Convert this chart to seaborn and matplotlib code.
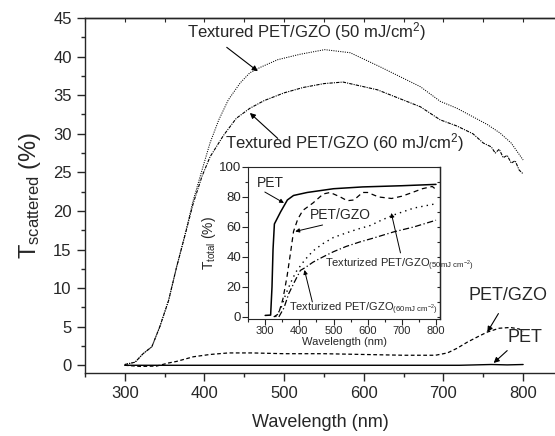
import matplotlib
matplotlib.use("Agg")
import matplotlib.pyplot as plt
import seaborn as sns
from matplotlib.ticker import MultipleLocator

# main plot: scattered transmittance
wl_50 = [300, 313, 323, 334, 344, 355, 365, 376, 386, 397, 407, 418, 430, 445, 457, 470, 492, 520,
         551, 583, 620, 671, 696, 717, 737, 755, 771, 785, 800]
ts_50 = [0.1, 0.4, 1.5, 2.4, 5.0, 8.4, 12.7, 17.1, 21.4, 25.3, 28.8, 31.8, 34.4, 36.6, 37.9, 38.6, 39.6, 40.3,
         40.9, 40.5, 38.7, 36.1, 34.2, 33.3, 32.2, 31.2, 30.1, 28.8, 26.6]

wl_60 = [300, 313, 323, 334, 344, 355, 365, 376, 386, 397, 407, 424, 440, 457, 475, 500, 524, 550, 574,
         617, 671, 696, 717, 737, 750, 760, 765, 770, 775, 780, 785, 790, 795, 800]
ts_60 = [0.1, 0.4, 1.5, 2.4, 5.0, 8.4, 12.7, 17.0, 21.0, 24.5, 27.0, 29.8, 32.0, 33.3, 34.3, 35.3, 36.0, 36.5, 36.7,
         35.7, 33.5, 31.8, 31.0, 30.0, 28.8, 28.3, 27.5, 28.0, 26.9, 27.2, 26.2, 26.5, 25.3, 24.8]

wl_pg = [300, 320, 340, 355, 365, 386, 407, 430, 460, 500, 550, 600, 650, 690, 705, 717, 730, 745, 755,
         770, 784, 795, 800]
ts_pg = [0.0, -0.15, -0.1, 0.3, 0.5, 1.1, 1.4, 1.6, 1.6, 1.5, 1.5, 1.4, 1.3, 1.3, 1.6, 2.2, 3.0, 3.8, 4.3,
         4.8, 4.9, 4.7, 4.4]

wl_pet = [300, 720, 740, 760, 780, 800]
ts_pet = [0.0, 0.0, 0.05, 0.1, 0.05, 0.1]

# inset: total transmittance
wl_in_pet = [300, 316, 320, 323, 327, 345, 365, 383, 423, 500, 585, 700, 800]
tt_in_pet = [1.0, 1.2, 20, 45, 62, 70, 78, 81, 83, 85.5, 86.7, 87.5, 88.4]

wl_in_pg = [325, 339, 352, 364, 375, 383, 395, 410, 440, 470, 490, 520, 540, 560, 585, 600, 632, 670,
            700, 726, 760, 789, 800]
tt_in_pg = [0, 2, 12, 27, 44, 57, 65, 71, 76, 82, 83, 80, 77.5, 78, 83, 83, 80, 79,
            80.5, 82.6, 85.5, 87, 85]

wl_in_50 = [330, 345, 360, 375, 390, 416, 440, 470, 500, 537, 570, 608, 640, 676, 735, 800]
tt_in_50 = [0, 5, 15, 23, 30, 38, 44, 49, 53, 56, 58.5, 61, 64.5, 68, 72.6, 75.5]

wl_in_60 = [340, 355, 369, 385, 403, 418, 440, 469, 500, 537, 577, 617, 676, 735, 800]
tt_in_60 = [0, 6, 15.5, 23, 31, 33, 36.5, 40, 43.5, 47, 50, 52.6, 56.7, 60, 64.5]

sns.set_style("ticks")
plt.rcParams['font.family'] = ['Liberation Sans', 'DejaVu Sans']
plt.rcParams['mathtext.fontset'] = 'custom'
plt.rcParams['mathtext.rm'] = 'Liberation Sans'
plt.rcParams['mathtext.it'] = 'Liberation Sans:italic'
plt.rcParams['axes.linewidth'] = 1.0

fig = plt.figure(figsize=(5.55, 4.36), dpi=100)
ax = fig.add_axes([0.153, 0.1445, 0.847, 0.8142])

sns.lineplot(x=wl_50, y=ts_50, ax=ax, color='k', lw=0.75, linestyle=(0, (1, 1.2)))
sns.lineplot(x=wl_60, y=ts_60, ax=ax, color='k', lw=0.8, linestyle=(0, (3, 1, 1, 1)))
sns.lineplot(x=wl_pg, y=ts_pg, ax=ax, color='k', lw=0.9, linestyle=(0, (3, 2)))
sns.lineplot(x=wl_pet, y=ts_pet, ax=ax, color='k', lw=1.0)

ax.set_xlim(250, 840)
ax.set_ylim(-1, 45)
ax.xaxis.set_major_locator(MultipleLocator(100))
ax.xaxis.set_minor_locator(MultipleLocator(50))
ax.yaxis.set_major_locator(MultipleLocator(5))
ax.yaxis.set_minor_locator(MultipleLocator(2.5))
ax.tick_params(which='major', direction='out', length=6, width=1, labelsize=12)
ax.tick_params(which='minor', direction='out', length=3, width=1)
ax.spines['right'].set_visible(False)
top = ax.secondary_xaxis('top')
top.xaxis.set_major_locator(MultipleLocator(50))
top.tick_params(direction='in', length=3, labeltop=False)

ax.set_xlabel('Wavelength (nm)', fontsize=13, labelpad=9)
ax.set_ylabel('T$_{\\mathrm{scattered}}$ (%)', fontsize=17)
ax.yaxis.set_label_coords(-0.09, 0.5)

arrow = dict(arrowstyle='-|>', color='k', lw=0.8, mutation_scale=8, shrinkA=0, shrinkB=0)
ax.text(378, 43.3, 'Textured PET/GZO (50 mJ/cm$^2$)', fontsize=12, va='center')
ax.annotate('', xy=(467, 38.1), xytext=(428, 41.2), arrowprops=arrow)
ax.text(426, 28.8, 'Textured PET/GZO (60 mJ/cm$^2$)', fontsize=12, va='center')
ax.annotate('', xy=(457, 32.7), xytext=(492, 29.4), arrowprops=arrow)
ax.text(732, 9.1, 'PET/GZO', fontsize=13, va='center')
ax.annotate('', xy=(755, 4.3), xytext=(769, 6.7), arrowprops=arrow)
ax.text(781, 3.6, 'PET', fontsize=13, va='center')
ax.annotate('', xy=(763, 0.3), xytext=(780, 1.9), arrowprops=arrow)

# inset
ins = fig.add_axes([0.447, 0.268, 0.346, 0.349])
sns.lineplot(x=wl_in_pet, y=tt_in_pet, ax=ins, color='k', lw=1.1)
sns.lineplot(x=wl_in_pg, y=tt_in_pg, ax=ins, color='k', lw=0.9, linestyle=(0, (4, 3)))
sns.lineplot(x=wl_in_50, y=tt_in_50, ax=ins, color='k', lw=1.0, linestyle=(0, (1, 3)))
sns.lineplot(x=wl_in_60, y=tt_in_60, ax=ins, color='k', lw=0.9, linestyle=(0, (5, 2, 1, 2)))
ins.set_xlim(250, 812)
ins.set_ylim(-1.5, 100)
ins.xaxis.set_major_locator(MultipleLocator(100))
ins.xaxis.set_minor_locator(MultipleLocator(50))
ins.yaxis.set_major_locator(MultipleLocator(20))
ins.yaxis.set_minor_locator(MultipleLocator(10))
ins.tick_params(which='major', direction='out', length=4, width=0.8)
ins.tick_params(which='minor', direction='out', length=2, width=0.8)
ins.tick_params(axis='x', labelsize=8, pad=1)
ins.tick_params(axis='y', labelsize=9.5, pad=1)
for s in ins.spines.values():
    s.set_linewidth(0.8)
rt = ins.secondary_yaxis('right')
rt.yaxis.set_major_locator(MultipleLocator(10))
rt.tick_params(direction='in', length=2.5, width=0.8, labelright=False)
ins.set_xlabel('Wavelength (nm)', fontsize=8, labelpad=1)
ins.set_ylabel('T$_{\\mathrm{total}}$ (%)', fontsize=10, labelpad=1)

arrow_s = dict(arrowstyle='-|>', color='k', lw=0.7, mutation_scale=6, shrinkA=0, shrinkB=0)
ins.text(275, 89.3, 'PET', fontsize=10, va='center')
ins.annotate('', xy=(355, 76), xytext=(299, 83.3), arrowprops=arrow_s)
ins.text(430, 68, 'PET/GZO', fontsize=10, va='center')
ins.annotate('', xy=(388, 57), xytext=(468, 61.3), arrowprops=arrow_s)
ins.text(474, 34.7, 'Texturized PET/GZO$_{\\mathrm{(50mJ\\ cm^{-2})}}$', fontsize=8, va='center')
ins.annotate('', xy=(669, 69.3), xytext=(696, 42.7), arrowprops=arrow_s)
ins.text(370, 5.3, 'Texturized PET/GZO$_{\\mathrm{(60mJ\\ cm^{-2})}}$', fontsize=8, va='center')
ins.annotate('', xy=(415, 31.3), xytext=(438, 10), arrowprops=arrow_s)

fig.savefig('out.png', dpi=100)
